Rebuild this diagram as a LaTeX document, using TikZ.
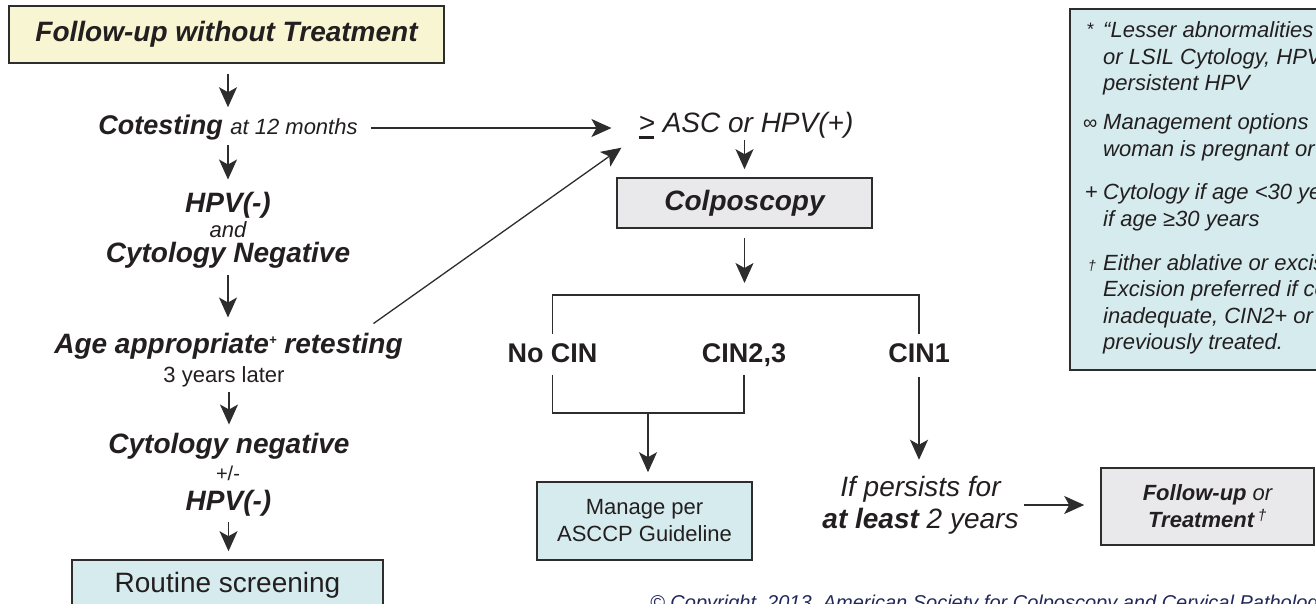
\documentclass[tikz,border=0pt]{standalone}
\usepackage{fontspec}
\setmainfont{Liberation Sans}
\usetikzlibrary{arrows.meta}
\definecolor{ink}{RGB}{35,31,32}
\definecolor{linegray}{RGB}{45,45,45}
\definecolor{paleyellow}{RGB}{248,246,210}
\definecolor{paleblue}{RGB}{214,235,238}
\definecolor{palegray}{RGB}{233,233,235}
\definecolor{navy}{RGB}{35,40,90}

\begin{document}
\begin{tikzpicture}[x=1pt, y=-1pt,
		box/.style={draw=linegray, line width=1.6pt, inner sep=0pt, text=ink},
		lbl/.style={inner sep=0pt, anchor=base, text=ink},
		boldit/.style={font=\fontsize{28}{32}\selectfont\bfseries\itshape},
		smallit/.style={font=\fontsize{22}{27}\selectfont\itshape},
		smallrm/.style={font=\fontsize{22}{27}\selectfont},
		cinlbl/.style={lbl, font=\fontsize{27}{32}\selectfont\bfseries},
		note/.style={inner sep=0pt, anchor=base west, text=ink, font=\fontsize{22}{26}\selectfont\itshape},
		arr/.style={draw=linegray, line width=1.3pt, -{Stealth[length=20pt, width=18pt, inset=5pt]}},
		brk/.style={draw=linegray, line width=1.5pt}]
			% page
			\useasboundingbox (0,0) rectangle (1316,604);
			\fill[white] (0,0) rectangle (1316,604);

			% left column
			\node[box, fill=paleyellow, minimum width=435pt, minimum height=57pt, boldit] (title) at (226.5,34.5) {Follow-up without Treatment};
			\node[lbl] (cotest) at (228,135) {\fontsize{27}{32}\selectfont\bfseries\itshape Cotesting {\mdseries\fontsize{22}{27}\selectfont at 12 months}};
			\node[lbl, boldit] (hpv1) at (228,212) {HPV(-)};
			\node[lbl, smallit] (and1) at (228,237) {and};
			\node[lbl, boldit] (cytneg1) at (228,262) {Cytology Negative};
			\node[lbl, boldit] (age) at (228.5,353) {Age appropriate\raisebox{9pt}{\fontsize{13}{13}\selectfont+} retesting};
			\node[lbl, smallrm] (years) at (224,382) {3 years later};
			\node[lbl, boldit] (cytneg2) at (229,453) {Cytology negative};
			\node[lbl, font=\fontsize{20}{24}\selectfont] (pm) at (228,480) {+/-};
			\node[lbl, boldit] (hpv2) at (228.5,510) {HPV(-)};
			\node[box, fill=paleblue, minimum width=311pt, minimum height=50pt, font=\fontsize{28}{32}\selectfont] (routine) at (227.5,585) {Routine screening};

			% middle
			\node[lbl, font=\fontsize{28}{32}\selectfont\itshape] (asc) at (746,133) {\makebox[0pt][l]{\rule[-6.5pt]{15pt}{3pt}}> ASC or HPV(+)};
			\node[box, fill=palegray, minimum width=255pt, minimum height=50pt, boldit] (colpo) at (744.5,203) {Colposcopy};
			\coordinate (split) at (744.5,295);
			\node[cinlbl] (nocin) at (552.5,362) {No CIN};
			\node[cinlbl] (cin23) at (744,362) {CIN2,3};
			\node[cinlbl] (cin1) at (919,362) {CIN1};
			\coordinate (join) at (648,413);
			\node[box, fill=paleblue, minimum width=215pt, minimum height=78pt, align=center, font=\fontsize{22}{27}\selectfont] (manage) at (644.5,521) {Manage per\\ASCCP Guideline};

			% right
			\node[inner sep=0pt, text=ink, align=center, font=\fontsize{28}{32}\selectfont\itshape] (persist) at (920.5,505) {If persists for\\\textbf{at least} 2 years};
			\node[box, fill=palegray, minimum width=213pt, minimum height=77pt, align=center, font=\fontsize{22}{27}\selectfont\itshape] (follow) at (1207.5,506.5) {\textbf{Follow-up} or\\\textbf{Treatment}\,\textsuperscript{†}};

			% notes
			\node[box, fill=paleblue, minimum width=331pt, minimum height=361pt, anchor=north west] (notebox) at (1069,8) {};
			\foreach \ny/\ntext [count=\k] in {38/{“Lesser abnormalities}, 64.5/{or LSIL Cytology, HPV}, 91/{persistent HPV}, 130/{Management options}, 156.5/{woman is pregnant or}, 200/{Cytology if age <30 years}, 226.5/{if age ≥30 years}, 270/{Either ablative or excisional}, 296.5/{Excision preferred if colposcopy}, 323/{inadequate, CIN2+ or}, 349.5/{previously treated.}}
				\node[note] (note\k) at (1103,\ny) {\ntext};
			\node[note, font=\fontsize{18}{20}\selectfont] (star) at (1087,36) {*};
			\node[note, font=\fontsize{20}{22}\selectfont] (infty) at (1083,130) {∞};
			\node[note, font=\fontsize{22}{26}\selectfont] (plus) at (1085,200) {+};
			\node[note, font=\fontsize{14}{16}\selectfont\itshape] (dagger) at (1088,270) {†};

			% copyright
			\node[note, text=navy, font=\fontsize{20}{22}\selectfont\itshape] (copy) at (650,609) {© Copyright, 2013, American Society for Colposcopy and Cervical Pathology};

			% arrows
			\draw[arr, shorten <=10pt, shorten >=8pt] (cotest.north |- title.south) -- (cotest.north);
			\draw[arr, shorten <=4pt, shorten >=12pt] (cotest.south -| hpv1.north) -- (hpv1.north);
			\draw[arr, shorten <=7pt, shorten >=15pt] (cytneg1.south) -- (cytneg1.south |- age.north);
			\draw[arr, shorten <=5pt, shorten >=8pt] (years.south -| cytneg2.north) -- (cytneg2.north);
			\draw[arr, shorten <=6pt, shorten >=8pt] (hpv2.south) -- (hpv2.south |- routine.north);
			\draw[arr, shorten <=13pt, shorten >=27pt] (cotest.east) -- (cotest.east -| asc.west);
			\draw[arr] ([xshift=145pt, yshift=9pt]age.north) -- ([xshift=-17pt, yshift=-8pt]asc.south west);
			\draw[arr, shorten >=8pt] (asc.south -| colpo.north) -- (colpo.north);
			\draw[arr, shorten <=9pt, shorten >=12pt] (colpo.south) -- (split);

			% brackets
			\draw[brk] ([yshift=9pt]nocin.north) |- (split) -| ([yshift=9pt]cin1.north);
			\draw[brk] ([yshift=-13pt]nocin.south) |- (join) -| ([yshift=-9pt]cin23.south);
			\draw[arr, shorten >=9pt] (join) -- (join |- manage.north);
			\draw[arr, shorten <=15pt, shorten >=16pt] (cin1.south) -- (cin1.south |- persist.north);
			\draw[arr, shorten <=5pt, shorten >=16pt] (persist.east) -- (persist.east -| follow.west);
		\end{tikzpicture}
\end{document}
